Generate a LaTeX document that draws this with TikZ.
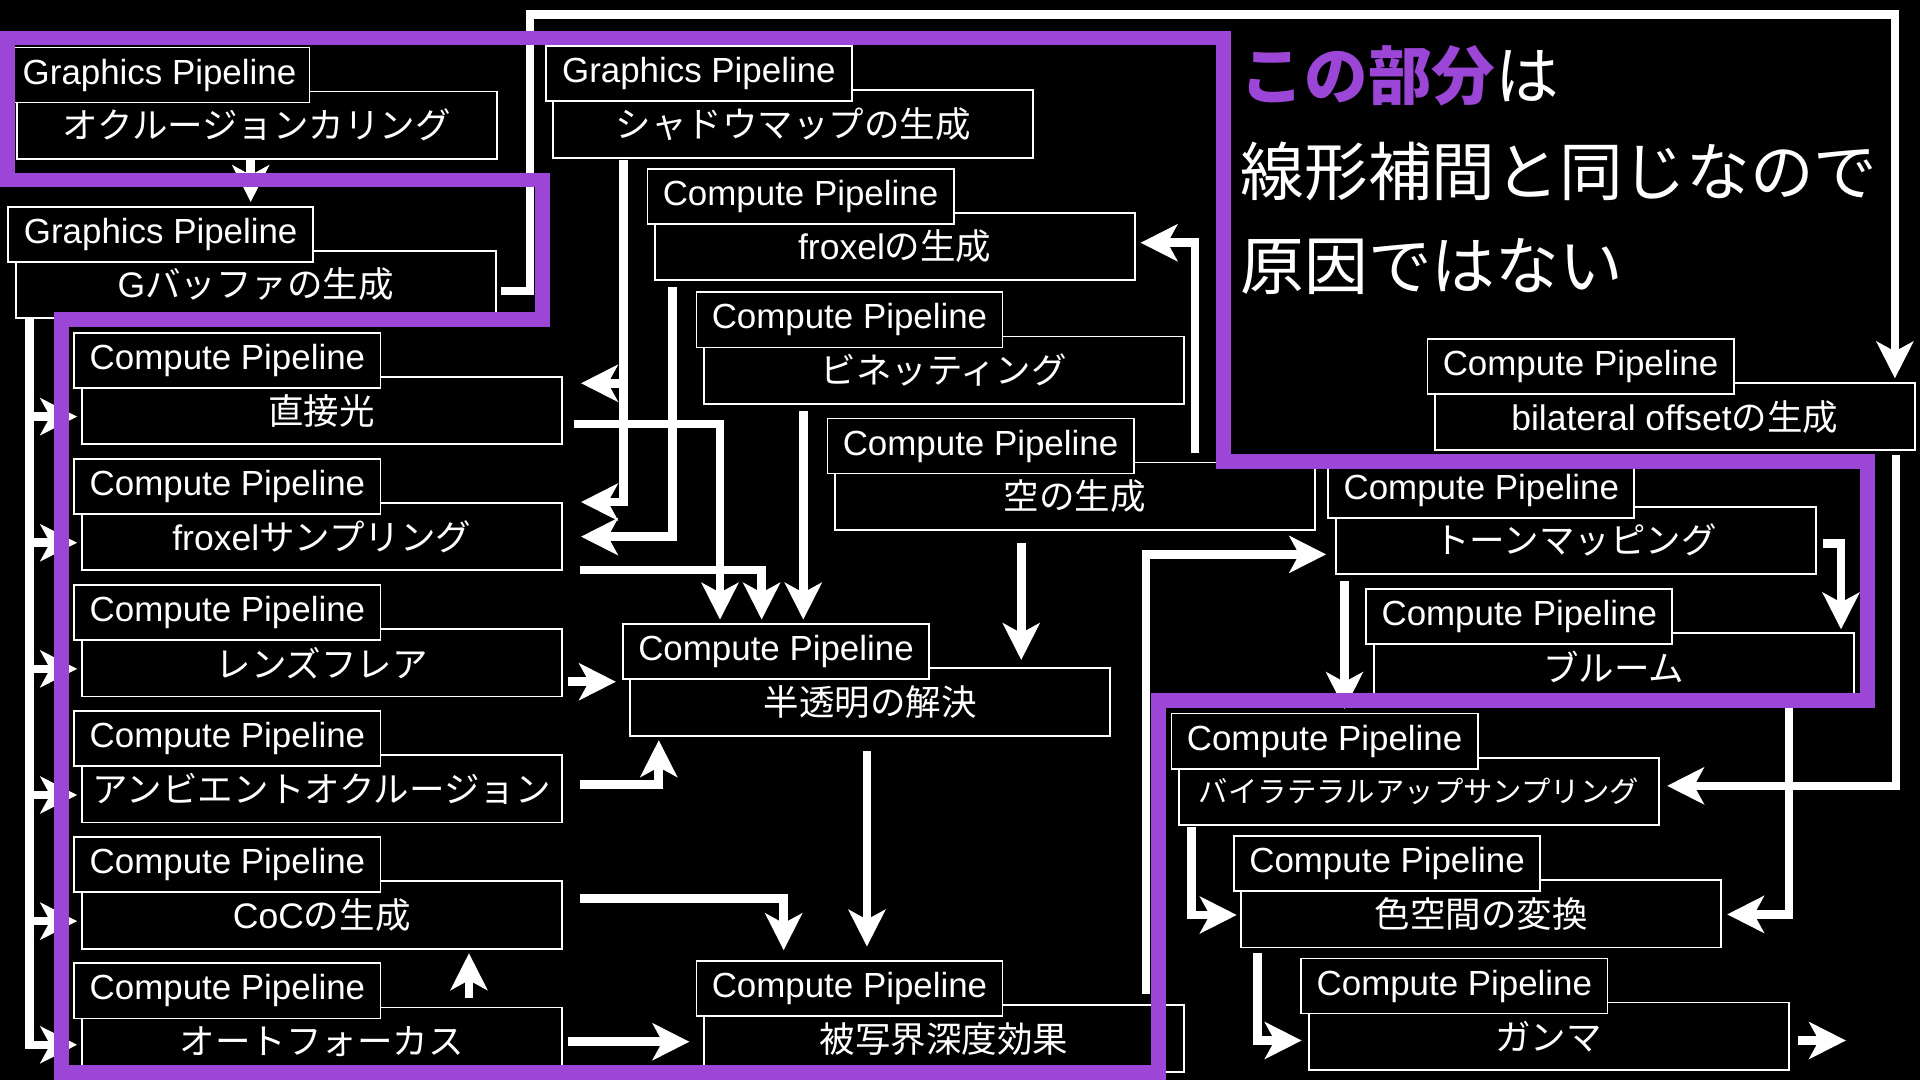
\documentclass[tikz,border=0pt]{standalone}
\usepackage{fontspec}
\setmainfont{Liberation Sans}
\newfontfamily\jpfont{Noto Sans CJK JP}
\usetikzlibrary{arrows.meta,calc}
\definecolor{hlpurple}{RGB}{155,70,214}
\newcommand\JP[1]{{\jpfont #1}}
\newcommand\pnode[6]{%
  \node[bigbox] (#1) at (#2+6,#3+36) {#5};
  \node[labbox, minimum width=#6pt] (#1l) at (#2,#3) {#4};
}
\tikzset{
  bigbox/.style={draw=white, line width=1.5pt, fill=black, text=white,
    minimum width=392pt, minimum height=55pt, inner sep=0pt, anchor=north west,
    font=\fontsize{29}{34}\selectfont},
  labbox/.style={draw=white, line width=1.5pt, fill=black, text=white,
    minimum height=45pt, inner sep=0pt, anchor=north west,
    font=\fontsize{28.5}{34}\selectfont},
  conn/.style={draw=white, line width=7pt, line join=miter,
    -{Stealth[length=30pt,width=30pt,inset=8pt]}},
  hl/.style={draw=hlpurple, line width=12pt, line join=miter},
  bigtext/.style={anchor=west, text=white, inner sep=0pt,
    font=\jpfont\fontsize{52}{60}\selectfont},
}
\begin{document}
\begin{tikzpicture}[x=1pt,y=-1pt]
\useasboundingbox (0,0) rectangle (1568,882);
\fill[black] (0,0) rectangle (1568,882);

% nodes: name, label x, label y, label, text, label width
\pnode{occ}{7}{38}{Graphics Pipeline}{\JP{オクルージョンカリング}}{245}
\pnode{gbuf}{6}{168}{Graphics Pipeline}{G\JP{バッファの生成}}{249}
\pnode{shadow}{445}{37}{Graphics Pipeline}{\JP{シャドウマップの生成}}{250}
\pnode{froxgen}{528}{137}{Compute Pipeline}{froxel\JP{の生成}}{250}
\pnode{vign}{568}{238}{Compute Pipeline}{\JP{ビネッティング}}{250}
\pnode{sky}{675}{341}{Compute Pipeline}{\JP{空の生成}}{250}
\pnode{direct}{60}{271}{Compute Pipeline}{\JP{直接光}}{250}
\pnode{froxs}{60}{374}{Compute Pipeline}{froxel\JP{サンプリング}}{250}
\pnode{lens}{60}{477}{Compute Pipeline}{\JP{レンズフレア}}{250}
\pnode{ao}{60}{580}{Compute Pipeline}{\JP{アンビエントオクルージョン}}{250}
\pnode{coc}{60}{683}{Compute Pipeline}{CoC\JP{の生成}}{250}
\pnode{af}{60}{786}{Compute Pipeline}{\JP{オートフォーカス}}{250}
\pnode{trans}{508}{509}{Compute Pipeline}{\JP{半透明の解決}}{250}
\pnode{dof}{568}{784}{Compute Pipeline}{\JP{被写界深度効果}}{250}
\pnode{bilat}{1165}{276}{Compute Pipeline}{bilateral offset\JP{の生成}}{250}
\pnode{tone}{1084}{377}{Compute Pipeline}{\JP{トーンマッピング}}{250}
\pnode{bloom}{1115}{480}{Compute Pipeline}{\JP{ブルーム}}{250}
\pnode{bup}{956}{582}{Compute Pipeline}{{\jpfont\fontsize{24}{30}\selectfont バイラテラルアップサンプリング}}{250}
\pnode{color}{1007}{682}{Compute Pipeline}{\JP{色空間の変換}}{250}
\pnode{gamma}{1062}{782}{Compute Pipeline}{\JP{ガンマ}}{250}

% connectors
\draw[conn] ($(occ.south)+(-5,0)$) -- ($(occ.south |- gbufl.north)+(-5,-3)$);

\coordinate (b1) at (433,12);
\draw[conn] ($(gbuf.east)+(4,5.5)$) -| (b1) -| ($(bilat.north east)+(-17,-3)$);

\coordinate (tr) at ($(gbuf.south west)+(12,0)$);
\draw[conn] (tr) |- ($(af.west)+(-3,3)$);
\foreach \n in {direct,froxs,lens,ao,coc}{
  \draw[conn] ($(tr |- \n.west)+(0,5)$) -- ($(\n.west)+(-3,5)$);
}

\coordinate (sx) at ($(shadow.south west)+(58,1)$);
\draw[conn] (sx) |- ($(froxs.north east)+(15,0)$);
\draw[conn] ($(sx |- direct.north east)+(0,6)$) -- ($(direct.north east)+(15,6)$);

\draw[conn] ($(froxgen.south west)+(15,5)$) |- ($(froxs.east)+(15,0)$);

\draw[conn] ($(direct.east)+(9,11)$) -| ($(transl.north west)+(80,-3)$);
\draw[conn] ($(froxs.south east)+(14,-1)$) -| ($(transl.north west)+(114,-3)$);
\draw[conn] ($(vign.south west)+(82,5)$) -- ($(transl.north west)+(148,-3)$);
\draw[conn] ($(sky.south west)+(153,10)$) -- ($(trans.north west)+(320,-6)$);
\draw[conn] ($(sky.north west)+(295,-7)$) |- ($(froxgen.east)+(4,-3)$);

\draw[conn] ($(lens.east)+(4,15.5)$) -- ($(lens.east -| trans.west)+(-11,15.5)$);
\draw[conn] ($(ao.east)+(14,-3.5)$) -| ($(trans.south west)+(24,3)$);
\draw[conn] ($(coc.east)+(14,-13.5)$) -| ($(dofl.north west)+(72,-8)$);
\draw[conn] ($(trans.south west)+(194,12)$) -- ($(dofl.north west)+(140,-11)$);
\draw[conn] ($(af.north west)+(317,-7)$) -- ($(coc.south west)+(317,3)$);
\draw[conn] ($(af.east)+(4,0.5)$) -- ($(af.east -| dof.west)+(-11,0.5)$);

\draw[conn] ($(dof.north west)+(362,-8)$) |- ($(tone.west)+(-7,11.5)$);
\draw[conn] ($(tone.east)+(5,2.5)$) -| ($(bloom.north east)+(-11,-2)$);
\draw[conn] ($(tone.south west)+(8,5)$) -- ($(bupl.north west)+(142,-3)$);
\draw[conn] ($(bloom.south west)+(340,4)$) |- ($(color.east)+(4,0.5)$);
\draw[conn] ($(bilat.south east)+(-16,3)$) |- ($(bup.east)+(6,-4.5)$);
\draw[conn] ($(bup.south west)+(11,1)$) |- ($(color.west)+(-3,1)$);
\draw[conn] ($(color.south west)+(14,4)$) |- ($(gamma.west)+(-5,3.5)$);
\coordinate (gout) at ($(gamma.east)+(46,3.5)$);
\draw[conn] ($(gamma.east)+(7,3.5)$) -- (gout);

% highlighted region
\draw[hl] (6,31) -- (999,31) -- (999,377) -- (1525,377) -- (1525,572)
  -- (946,572) -- (946,876) -- (50,876) -- (50,261) -- (443,261)
  -- (443,147) -- (6,147) -- cycle;

% annotation
\node[bigtext] (t1) at (1013,62) {\textcolor{hlpurple}{\bfseries この部分}は};
\node[bigtext] (t2) at (1013,140) {線形補間と同じなので};
\node[bigtext] (t3) at (1013,218) {原因ではない};
\end{tikzpicture}
\end{document}
